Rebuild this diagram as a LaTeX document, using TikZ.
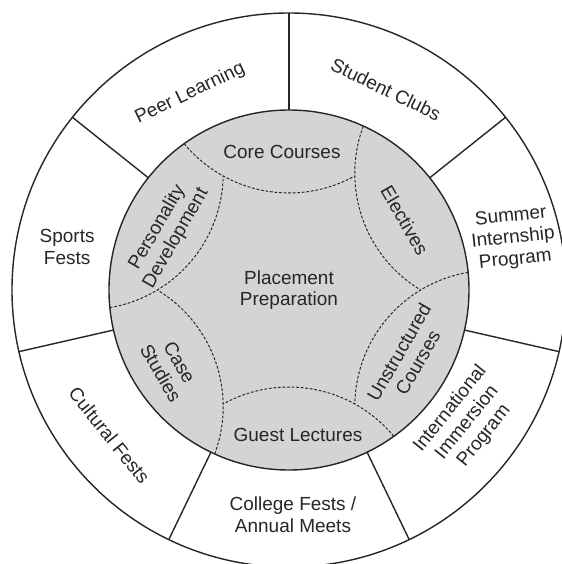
\documentclass[tikz,border=0pt]{standalone}
\usepackage{fontspec}
\setmainfont{Liberation Sans}
\usetikzlibrary{calc}

\begin{document}
\begin{tikzpicture}[
  lbl/.style={align=center,font=\fontsize{10.8}{12.3}\selectfont,text=black!85,inner sep=0pt},
  ring/.style={line width=0.8pt,draw=black!85},
  part/.style={line width=0.55pt,draw=black!85,dash pattern=on 1.6pt off 1pt}]
\useasboundingbox (-5.78,-5.48) rectangle (5.44,5.8);
% outer ring and spokes
\draw[ring] (0,0) circle (5.54);
\fill[black!17] (0,0) circle (3.6);
\foreach \k in {0,...,6}
  \draw[ring] (90-360/7*\k:3.6) -- (90-360/7*\k:5.54);
% dotted pinwheel arcs
\foreach \k in {0,...,5}
  \draw[part] (125.61-60*\k:3.6) arc[start angle=219.6-60*\k, end angle=298.94-60*\k, radius=2.72];
\draw[ring] (0,0) circle (3.6);
% inner labels
\node[lbl] (place) at (0,0) {Placement\\Preparation};
\node[lbl] (core) at (-0.14,2.76) {Core Courses};
\node[lbl,rotate=-60] (elect) at (31:2.7) {Electives};
\node[lbl,rotate=60] (unstr) at (-29.4:2.74) {Unstructured\\Courses};
\node[lbl] (guest) at (0.18,-2.9) {Guest Lectures};
\node[lbl,rotate=-60] (case) at (-146.8:2.84) {Case\\Studies};
\node[lbl,rotate=60] (pers) at (155:2.7) {Personality\\Development};
% outer labels
\node[lbl,rotate=-25.7] (clubs) at (64.2:4.46) {Student Clubs};
\node[lbl,rotate=6] (summer) at (13:4.6) {Summer\\Internship\\Program};
\node[lbl,rotate=51.4] (intl) at (-36.6:4.44) {International\\Immersion\\Program};
\node[lbl] (college) at (0.08,-4.5) {College Fests /\\Annual Meets};
\node[lbl,rotate=-51.4] (cult) at (-141:4.62) {Cultural Fests};
\node[lbl] (sports) at (169:4.52) {Sports\\Fests};
\node[lbl,rotate=25.7] (peer) at (116.7:4.4) {Peer Learning};
\end{tikzpicture}
\end{document}
